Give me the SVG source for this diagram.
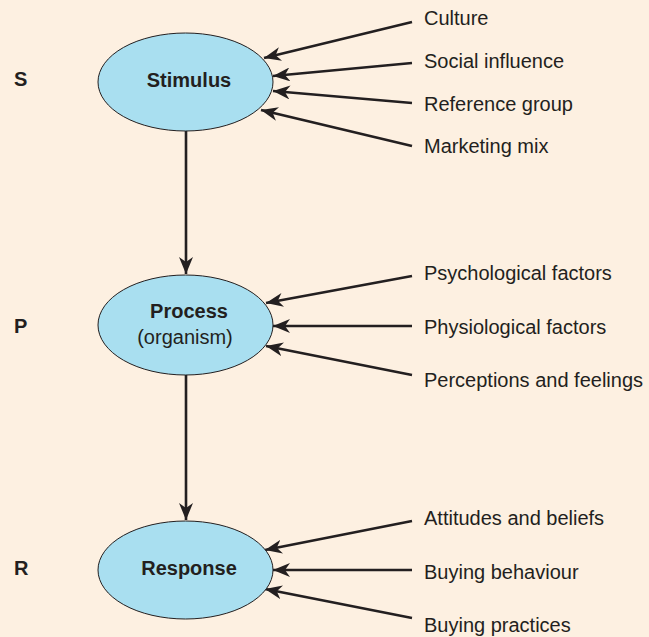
<svg xmlns="http://www.w3.org/2000/svg" width="649" height="637" viewBox="0 0 649 637">
<defs>
<style>
.t{font-family:"Liberation Sans",Arial,sans-serif;font-size:20px;fill:#231f20}
.b{font-weight:bold}
.n{fill:#a9dff0;stroke:#231f20;stroke-width:1}
.c{stroke:#231f20;stroke-width:2.6;fill:none}
</style>
<marker id="ah" markerUnits="userSpaceOnUse" markerWidth="18" markerHeight="14" viewBox="0 0 18 14" refX="17" refY="7" orient="auto">
<path d="M0,0 L17,7 L0,14 L5,7 Z" fill="#231f20"/>
</marker>
</defs>
<rect width="649" height="637" fill="#fdf0e1"/>
<g id="labels">
<text class="t b" x="14" y="86">S</text>
<text class="t b" x="14" y="333">P</text>
<text class="t b" x="14" y="575">R</text>
</g>
<g id="connectors">
<line class="c" x1="186" y1="131" x2="186" y2="274" marker-end="url(#ah)"/>
<line class="c" x1="186" y1="375" x2="186" y2="520" marker-end="url(#ah)"/>
<line class="c" x1="412" y1="22" x2="264" y2="58" marker-end="url(#ah)"/>
<line class="c" x1="412" y1="63" x2="273" y2="76" marker-end="url(#ah)"/>
<line class="c" x1="412" y1="103" x2="273" y2="91" marker-end="url(#ah)"/>
<line class="c" x1="412" y1="146" x2="261" y2="110" marker-end="url(#ah)"/>
<line class="c" x1="412" y1="276" x2="266" y2="303" marker-end="url(#ah)"/>
<line class="c" x1="412" y1="326" x2="273" y2="326" marker-end="url(#ah)"/>
<line class="c" x1="412" y1="375" x2="266" y2="346" marker-end="url(#ah)"/>
<line class="c" x1="412" y1="521" x2="265" y2="550" marker-end="url(#ah)"/>
<line class="c" x1="412" y1="570" x2="273" y2="570" marker-end="url(#ah)"/>
<line class="c" x1="412" y1="618" x2="265" y2="589" marker-end="url(#ah)"/>
</g>
<g id="stimulus">
<ellipse class="n" cx="185.5" cy="82" rx="87.5" ry="49"/>
<text class="t b" x="189" y="87" text-anchor="middle">Stimulus</text>
</g>
<g id="process">
<ellipse class="n" cx="185.5" cy="325" rx="87.5" ry="50"/>
<text class="t b" x="189" y="318" text-anchor="middle">Process</text>
<text class="t" x="185" y="344" text-anchor="middle">(organism)</text>
</g>
<g id="response">
<ellipse class="n" cx="185.5" cy="570" rx="87.5" ry="49"/>
<text class="t b" x="189" y="575" text-anchor="middle">Response</text>
</g>
<g id="culture"><text class="t" x="424" y="25">Culture</text></g>
<g id="social"><text class="t" x="424" y="68">Social influence</text></g>
<g id="reference"><text class="t" x="424" y="111">Reference group</text></g>
<g id="marketing"><text class="t" x="424" y="153">Marketing mix</text></g>
<g id="psychological"><text class="t" x="424" y="280">Psychological factors</text></g>
<g id="physiological"><text class="t" x="424" y="334">Physiological factors</text></g>
<g id="perceptions"><text class="t" x="424" y="387">Perceptions and feelings</text></g>
<g id="attitudes"><text class="t" x="424" y="525">Attitudes and beliefs</text></g>
<g id="behaviour"><text class="t" x="424" y="579">Buying behaviour</text></g>
<g id="practices"><text class="t" x="424" y="632">Buying practices</text></g>
</svg>
